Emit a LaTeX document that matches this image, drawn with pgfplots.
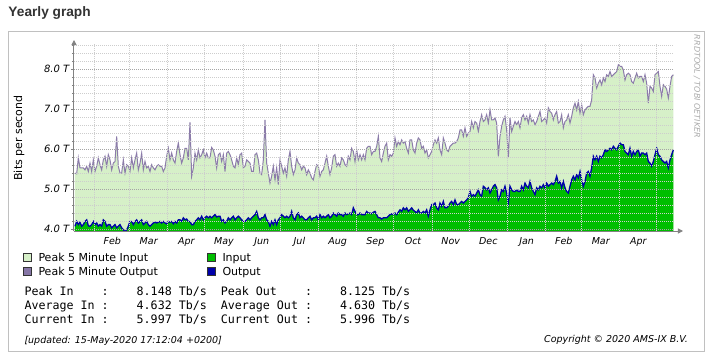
\documentclass[border=0pt]{standalone}
\usepackage{fontspec}
\setmainfont{DejaVu Sans}
\newfontfamily\monofont{DejaVu Sans Mono}
\newfontfamily\titlefont{Liberation Sans}
\usepackage{pgfplots}
\pgfplotsset{compat=1.18}
\usepackage{pgfplotstable}
\usetikzlibrary{arrows.meta}

\definecolor{lgreen}{RGB}{214,240,200}
\definecolor{igreen}{RGB}{0,190,0}
\definecolor{oblue}{RGB}{0,0,170}
\definecolor{ppurple}{RGB}{140,124,170}
\definecolor{lpurple}{RGB}{134,118,166}
\definecolor{axgray}{RGB}{130,130,130}
\definecolor{gmaj}{RGB}{165,165,165}
\definecolor{gmin}{RGB}{205,205,205}
\definecolor{gyear}{RGB}{150,150,150}
\definecolor{bordergray}{RGB}{192,192,192}
\definecolor{rrdgray}{RGB}{170,170,170}
\definecolor{titlegray}{RGB}{51,51,51}

\newcommand\spc{\hphantom{0}}
\newcommand\spcc{\spc\spc\spc\spc}

% K = sample index (about 1.35 days each, K=15 is 1 Feb 2019, K=352.2 is 1 May 2020)
% P = peak 5 minute (T bit/s), A = average (T bit/s)
\pgfplotstableread{
K P A
3 5.40 4.07
4 5.38 4.19
5 5.78 4.11
6 5.53 4.17
7 5.53 4.07
8 5.53 4.11
9 5.48 4.19
10 5.57 4.23
11 5.44 4.08
12 5.65 4.07
13 5.44 4.11
14 5.73 4.19
15 5.44 4.11
16 5.57 4.15
17 5.78 4.07
18 5.61 4.11
19 5.48 4.07
20 5.73 4.23
21 5.82 4.19
22 5.57 4.07
23 5.86 4.11
24 5.73 4.11
25 5.48 4.03
26 5.65 4.07
27 5.69 4.11
28 6.32 4.03
29 5.57 4.07
30 5.40 4.11
31 5.40 4.03
32 5.73 3.98
33 5.40 3.94
34 5.61 3.98
35 5.57 4.07
36 5.44 4.19
37 5.78 4.19
38 5.53 4.11
39 5.73 4.19
40 5.90 4.23
41 5.48 4.15
42 5.65 4.19
43 5.90 4.23
44 5.48 4.11
45 5.69 4.15
46 5.53 4.19
47 5.57 4.11
48 5.44 4.07
49 5.61 4.11
50 5.53 4.15
51 5.48 4.17
52 5.57 4.15
53 5.61 4.17
54 5.57 4.19
55 5.57 4.15
56 5.44 4.19
57 5.53 4.15
58 5.82 4.13
59 6.02 4.19
60 5.73 4.17
61 5.90 4.19
62 5.73 4.13
63 5.65 4.19
64 5.94 4.15
65 6.15 4.23
66 5.86 4.23
67 5.65 4.19
68 5.78 4.28
69 6.02 4.23
70 6.02 4.25
71 5.73 4.19
72 6.67 4.19
73 5.32 4.11
74 5.53 4.11
75 5.90 4.19
76 5.73 4.23
77 5.98 4.28
78 5.78 4.23
79 5.86 4.32
80 5.98 4.23
81 5.78 4.28
82 5.90 4.32
83 5.78 4.28
84 5.78 4.32
85 6.04 4.28
86 5.98 4.32
87 5.82 4.36
88 5.53 4.30
89 5.86 4.32
90 5.90 4.32
91 5.69 4.19
92 5.86 4.23
93 5.44 4.15
94 5.90 4.19
95 5.94 4.28
96 5.86 4.23
97 5.73 4.28
98 5.57 4.32
99 5.53 4.23
100 5.78 4.28
101 5.61 4.32
102 5.86 4.28
103 5.90 4.23
104 5.53 4.19
105 5.57 4.19
106 5.73 4.23
107 5.69 4.28
108 5.65 4.23
109 5.44 4.28
110 5.44 4.32
111 5.86 4.36
112 5.90 4.44
113 5.73 4.28
114 5.40 4.23
115 5.36 4.28
116 5.73 4.28
117 6.73 4.36
118 5.65 4.23
119 5.40 4.19
120 5.15 4.07
121 5.32 4.19
122 5.57 4.11
123 5.23 4.23
124 5.53 4.11
125 5.11 4.23
126 5.73 4.28
127 5.57 4.36
128 5.40 4.32
129 5.53 4.28
130 5.32 4.32
131 5.73 4.28
132 5.94 4.32
133 5.57 4.44
134 5.36 4.28
135 5.48 4.23
136 5.78 4.36
137 5.65 4.40
138 5.61 4.28
139 5.48 4.32
140 5.57 4.28
141 5.53 4.23
142 5.36 4.23
143 5.48 4.28
144 5.40 4.32
145 5.28 4.23
146 5.23 4.28
147 5.44 4.28
148 5.61 4.32
149 5.57 4.23
150 5.32 4.36
151 5.44 4.28
152 5.48 4.32
153 5.65 4.28
154 5.82 4.32
155 5.57 4.36
156 5.36 4.28
157 5.53 4.32
158 5.82 4.40
159 5.86 4.36
160 5.57 4.32
161 5.65 4.40
162 5.57 4.36
163 5.78 4.36
164 5.73 4.32
165 5.61 4.40
166 5.57 4.36
167 5.82 4.38
168 5.73 4.40
169 6.02 4.36
170 5.94 4.53
171 5.69 4.44
172 5.98 4.36
173 5.73 4.36
174 5.86 4.40
175 5.73 4.36
176 5.86 4.36
177 5.73 4.36
178 6.02 4.44
179 6.07 4.40
180 6.07 4.40
181 5.86 4.38
182 5.94 4.42
183 5.94 4.44
184 6.07 4.36
185 6.32 4.28
186 5.78 4.28
187 5.69 4.25
188 5.90 4.28
189 6.07 4.28
190 6.15 4.28
191 5.73 4.32
192 5.86 4.36
193 5.82 4.38
194 5.90 4.36
195 6.28 4.40
196 6.07 4.36
197 6.19 4.42
198 6.11 4.48
199 6.23 4.44
200 6.15 4.53
201 6.19 4.48
202 6.02 4.53
203 5.90 4.44
204 6.23 4.48
205 6.23 4.53
206 5.98 4.47
207 5.90 4.44
208 6.15 4.40
209 6.28 4.48
210 6.23 4.40
211 6.02 4.40
212 6.07 4.44
213 5.90 4.40
214 5.98 4.48
215 5.78 4.32
216 5.86 4.48
217 5.94 4.61
218 6.11 4.61
219 6.23 4.65
220 6.15 4.53
221 6.28 4.48
222 5.98 4.65
223 5.86 4.57
224 6.28 4.69
225 6.15 4.53
226 5.98 4.53
227 5.94 4.57
228 6.07 4.65
229 6.11 4.69
230 6.15 4.61
231 6.15 4.73
232 6.19 4.61
233 6.28 4.61
234 6.48 4.65
235 6.48 4.69
236 6.32 4.65
237 6.53 4.69
238 6.32 4.73
239 6.40 4.78
240 6.44 4.94
241 6.69 4.82
242 6.53 4.86
243 6.69 4.82
244 6.65 4.90
245 6.44 4.98
246 6.69 4.86
247 6.86 4.82
248 6.69 5.07
249 6.73 5.03
250 6.86 4.98
251 6.65 5.03
252 6.98 4.90
253 6.73 4.98
254 6.73 5.07
255 6.78 5.11
256 6.65 5.03
257 5.82 4.73
258 6.32 4.82
259 6.57 4.98
260 6.73 4.94
261 6.82 5.07
262 6.48 4.90
263 5.78 4.65
264 6.78 5.07
265 6.44 4.98
266 6.57 4.94
267 6.69 4.94
268 6.61 4.98
269 6.69 4.94
270 6.53 4.94
271 6.78 5.07
272 6.86 4.98
273 6.73 5.15
274 6.82 5.07
275 6.65 5.03
276 6.86 5.19
277 6.69 5.03
278 6.73 4.94
279 6.61 4.86
280 6.69 5.03
281 6.82 4.98
282 6.94 5.07
283 6.69 5.03
284 6.73 5.11
285 6.78 5.03
286 6.65 5.15
287 7.03 5.07
288 6.94 5.11
289 6.90 5.15
290 6.73 5.11
291 6.86 5.19
292 6.94 5.32
293 6.65 5.15
294 6.69 5.19
295 6.86 5.03
296 6.53 5.19
297 6.69 5.03
298 6.73 4.94
299 6.86 4.90
300 6.65 5.07
301 6.82 5.23
302 7.03 5.32
303 7.15 5.23
304 6.98 5.36
305 7.19 5.28
306 6.90 5.44
307 7.11 5.23
308 6.86 5.07
309 6.98 5.19
310 7.03 5.40
311 7.07 5.44
312 7.07 5.32
313 7.23 5.53
314 7.86 5.82
315 7.78 5.73
316 7.53 5.82
317 7.65 5.69
318 7.73 5.82
319 7.61 5.78
320 7.78 5.86
321 7.69 5.98
322 7.86 5.94
323 7.82 5.98
324 7.94 6.02
325 7.82 5.98
326 7.86 6.07
327 7.90 6.02
328 7.94 5.98
329 8.11 6.07
330 8.07 6.15
331 8.07 6.11
332 7.98 6.11
333 7.73 5.94
334 7.86 5.90
335 7.90 5.86
336 7.86 6.02
337 7.69 5.82
338 7.65 5.94
339 7.78 5.86
340 7.90 5.94
341 7.78 5.98
342 7.82 5.82
343 7.82 5.90
344 7.69 5.90
345 7.86 5.86
346 7.65 5.90
347 7.15 5.69
348 7.57 5.65
349 7.53 5.57
350 7.44 5.69
351 7.86 5.86
352 7.90 6.02
353 7.94 5.86
354 7.57 5.82
355 7.32 5.73
356 7.61 5.69
357 7.57 5.65
358 7.50 5.69
359 7.28 5.53
360 7.57 5.73
361 7.82 5.86
362 7.86 5.98
}\datatable

\begin{document}
\begin{tikzpicture}
\begin{scope}[x=1pt,y=-1pt]
  \fill[white] (0,0) rectangle (716,362);
  \draw[bordergray, line width=1pt] (8.5,31.5) rectangle (704.5,351.5);
  \node[anchor=base west, inner sep=0, text=titlegray,
        font=\titlefont\bfseries\fontsize{13.7}{16}\selectfont] at (8.3,16) {Yearly graph};
  % y label
  \node[anchor=base, rotate=90, inner sep=0, font=\fontsize{11}{13}\selectfont] at (22,138) {Bits per second};
  % rrdtool credit
  \node[anchor=center, rotate=-90, inner sep=0, text=rrdgray,
        font=\itshape\fontsize{8}{9}\selectfont] at (697,86.5) {RRDTOOL / TOBI OETIKER};
  % legend
  \filldraw[fill=lgreen, draw=black!80, line width=0.8pt] (23.8,253.8) rectangle (31.2,261.2);
  \filldraw[fill=lpurple, draw=black!80, line width=0.8pt] (23.8,267.8) rectangle (31.2,275.2);
  \filldraw[fill=igreen, draw=black!80, line width=0.8pt] (207.8,253.8) rectangle (215.2,261.2);
  \filldraw[fill=oblue, draw=black!80, line width=0.8pt] (207.8,267.8) rectangle (215.2,275.2);
  \begin{scope}[every node/.style={anchor=base west, inner sep=0, font=\fontsize{11}{13}\selectfont}]
    \node at (38.3,261.5) {Peak 5 Minute Input};
    \node at (38.3,275.5) {Peak 5 Minute Output};
    \node at (222.3,261.5) {Input};
    \node at (222.3,275.5) {Output};
  \end{scope}
  % statistics
  \begin{scope}[every node/.style={anchor=base west, inner sep=0, font=\monofont\fontsize{11.65}{13}\selectfont}]
    \node at (24.3,295) {Peak\spc In\spcc:\spcc 8.148\spc Tb/s\spc\spc Peak\spc Out\spcc:\spcc 8.125\spc Tb/s};
    \node at (24.3,309.3) {Average\spc In\spc:\spcc 4.632\spc Tb/s\spc\spc Average\spc Out\spc:\spcc 4.630\spc Tb/s};
    \node at (24.3,323) {Current\spc In\spc:\spcc 5.997\spc Tb/s\spc\spc Current\spc Out\spc:\spcc 5.996\spc Tb/s};
  \end{scope}
  \node[anchor=base west, inner sep=0, font=\itshape\fontsize{9.5}{11}\selectfont] at (24.3,343) {[updated: 15-May-2020 17:12:04 +0200]};
  \node[anchor=base east, inner sep=0, font=\itshape\fontsize{9.5}{11}\selectfont] at (688,342.5) {Copyright \textcopyright\ 2020 AMS-IX B.V.};
\end{scope}

\begin{axis}[
  at={(74pt,-231pt)}, anchor=south west,
  scale only axis, width=600pt, height=187pt,
  xmin=2.4, xmax=362.4, ymin=3.95, ymax=8.63,
  axis lines=left,
  axis on top,
  x axis line style={draw=axgray, line width=1pt, -{Triangle[length=5pt,width=5pt]}, shorten >=-9pt},
  y axis line style={draw=axgray, line width=1pt, -{Triangle[length=5pt,width=5pt]}, shorten >=-4pt},
  xtick={15.0,35.75,58.7,80.95,103.9,126.2,149.1,172.1,194.3,217.3,239.5,262.5,285.5,307.0,329.9,352.2},
  x tick label as interval,
  xticklabels={Feb,Mar,Apr,May,Jun,Jul,Aug,Sep,Oct,Nov,Dec,Jan,Feb,Mar,Apr,},
  ytick={4,5,6,7,8},
  yticklabels={4.0 T,5.0 T,6.0 T,7.0 T,8.0 T},
  minor ytick={4.2,4.4,4.6,4.8,5.2,5.4,5.6,5.8,6.2,6.4,6.6,6.8,7.2,7.4,7.6,7.8,8.2,8.4,8.6},
  xmajorgrids, ymajorgrids, yminorgrids,
  major x grid style={gmin, line width=1pt, dash pattern=on 1pt off 1pt},
  major y grid style={gmaj, line width=1pt, dash pattern=on 1pt off 1pt},
  minor y grid style={gmin, line width=1pt, dash pattern=on 1pt off 1pt},
  tick align=outside,
  major tick length=3pt, minor tick length=2pt,
  xtick style={draw=none},
  ytick style={draw=axgray, line width=0.8pt},
  yticklabel style={font=\itshape\fontsize{10}{12}\selectfont, inner sep=1.5pt},
  xticklabel style={font=\itshape\fontsize{9.5}{11}\selectfont},
]
  \addplot[fill=lgreen, draw=none] table[x=K, y=P] {\datatable} \closedcycle;
  \addplot[fill=igreen, draw=none] table[x=K, y=A] {\datatable} \closedcycle;
  \addplot[ppurple, line width=1pt] table[x=K, y=P] {\datatable};
  \addplot[oblue, line width=1.3pt] table[x=K, y=A] {\datatable};
  \draw[gyear, line width=1pt, dash pattern=on 1pt off 1pt] (axis cs:262.5,3.95) -- (axis cs:262.5,8.63);
\end{axis}
\pgfresetboundingbox
\useasboundingbox (0,0) rectangle (716pt,-362pt);
\end{tikzpicture}
\end{document}
